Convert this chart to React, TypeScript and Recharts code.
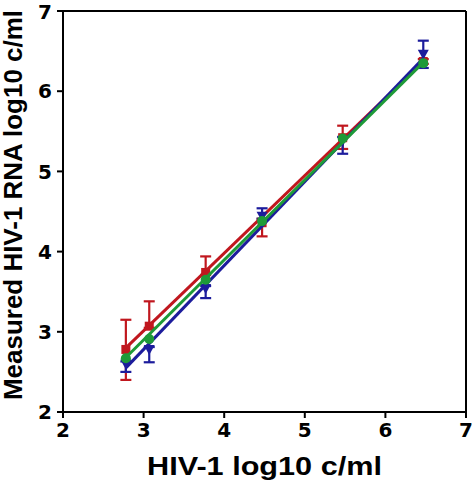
import React from 'react';
import { ScatterChart, Scatter, XAxis, YAxis, ErrorBar, ReferenceLine, Label } from 'recharts';

// Input concentrations (x, log10 c/ml)
const xValues = [2.78, 3.07, 3.77, 4.47, 5.47, 6.47];

// Measured means and error bars [below, above] per assay
const redValues = [2.78, 3.07, 3.74, 4.36, 5.42, 6.37];
const redBelow = [0.38, 0.02, 0.03, 0.17, 0.14, 0.03];
const redAbove = [0.37, 0.31, 0.2, 0.05, 0.15, 0.03];
const blueValues = [2.6, 2.78, 3.54, 4.44, 5.38, 6.46];
const blueBelow = [0.1, 0.16, 0.12, 0.03, 0.16, 0.17];
const blueAbove = [0.03, 0.03, 0.03, 0.1, 0.05, 0.17];
const greenValues = [2.67, 2.91, 3.65, 4.38, 5.41, 6.35];

// Regression line endpoints (x from first to last input)
const fitX = [2.78, 6.47];
const redFit = [2.8, 6.37];
const blueFit = [2.55, 6.41];
const greenFit = [2.68, 6.36];

const ticks = [2, 3, 4, 5, 6, 7];

const RED = '#C0171E';
const BLUE = '#1C1C9C';
const GREEN = '#1E9A38';

const build = (ys: number[], lo: number[], hi: number[]) =>
  xValues.map((x, i) => ({ x, y: ys[i], err: [lo[i], hi[i]] }));
const buildPts = (ys: number[]) => xValues.map((x, i) => ({ x, y: ys[i] }));
const buildFit = (ys: number[]) => fitX.map((x, i) => ({ x, y: ys[i] }));

const redData = build(redValues, redBelow, redAbove);
const blueData = build(blueValues, blueBelow, blueAbove);
const greenData = buildPts(greenValues);

const TICK_FONT = { fontFamily: 'DejaVu Sans', fontWeight: 'bold' as const, fontSize: 20, fill: '#000' };
const TITLE_FONT = 'Liberation Sans, Arial, sans-serif';

const Empty = () => <g />;

const Square = (p: any) => <rect x={p.cx - 4.5} y={p.cy - 4.5} width={9} height={9} fill={RED} />;
const DownTri = (p: any) => (
  <polygon points={`${p.cx - 5.5},${p.cy - 4.5} ${p.cx + 5.5},${p.cy - 4.5} ${p.cx},${p.cy + 5.5}`} fill={BLUE} />
);
const Dot = (p: any) => <circle cx={p.cx} cy={p.cy} r={5} fill={GREEN} />;

export default function App() {
  return (
    <div style={{ position: 'absolute', left: 0, top: 0, width: 474, height: 486, background: '#fff' }}>
      <ScatterChart width={474} height={486} margin={{ top: 11, right: 8, bottom: 0, left: 0 }}>
        <XAxis
          type="number"
          dataKey="x"
          domain={[2, 7]}
          ticks={ticks}
          allowDataOverflow
          height={74}
          axisLine={{ stroke: '#000', strokeWidth: 2 }}
          tickLine={{ stroke: '#000', strokeWidth: 2 }}
          tickSize={6}
          tickMargin={5}
          tick={TICK_FONT}
        >
          <Label
            content={(props: any) => {
              const vb = props.viewBox;
              return (
                <text
                  x={vb.x + vb.width / 2}
                  y={vb.y + 63}
                  textAnchor="middle"
                  fontFamily={TITLE_FONT}
                  fontWeight="bold"
                  fontSize={25}
                  textLength={235}
                  lengthAdjust="spacingAndGlyphs"
                  fill="#000"
                >
                  HIV-1 log10 c/ml
                </text>
              );
            }}
          />
        </XAxis>
        <YAxis
          type="number"
          dataKey="y"
          domain={[2, 7]}
          ticks={ticks}
          allowDataOverflow
          width={63}
          axisLine={{ stroke: '#000', strokeWidth: 2 }}
          tickLine={{ stroke: '#000', strokeWidth: 2 }}
          tickSize={6}
          tickMargin={5}
          tick={TICK_FONT}
        >
          <Label
            content={(props: any) => {
              const vb = props.viewBox;
              const cx = 13;
              const cy = vb.y + 194;
              return (
                <text
                  x={cx}
                  y={cy}
                  transform={`rotate(-90 ${cx} ${cy})`}
                  textAnchor="middle"
                  dominantBaseline="central"
                  fontFamily={TITLE_FONT}
                  fontWeight="bold"
                  fontSize={25}
                  textLength={390}
                  lengthAdjust="spacingAndGlyphs"
                  fill="#000"
                >
                  Measured HIV-1 RNA log10 c/ml
                </text>
              );
            }}
          />
        </YAxis>
        <ReferenceLine y={7} stroke="#000" strokeWidth={2} />
        <ReferenceLine x={7} stroke="#000" strokeWidth={2} />

        <Scatter data={buildFit(redFit)} line={{ stroke: RED, strokeWidth: 3 }} shape={Empty} isAnimationActive={false} />
        <Scatter data={redData} shape={Square} fill={RED} isAnimationActive={false}>
          <ErrorBar dataKey="err" direction="y" width={5.5} stroke={RED} strokeWidth={2.2} />
        </Scatter>

        <Scatter data={buildFit(blueFit)} line={{ stroke: BLUE, strokeWidth: 3 }} shape={Empty} isAnimationActive={false} />
        <Scatter data={blueData} shape={DownTri} fill={BLUE} isAnimationActive={false}>
          <ErrorBar dataKey="err" direction="y" width={5.5} stroke={BLUE} strokeWidth={2.2} />
        </Scatter>

        <Scatter data={buildFit(greenFit)} line={{ stroke: GREEN, strokeWidth: 3 }} shape={Empty} isAnimationActive={false} />
        <Scatter data={greenData} shape={Dot} fill={GREEN} isAnimationActive={false} />
      </ScatterChart>
    </div>
  );
}
